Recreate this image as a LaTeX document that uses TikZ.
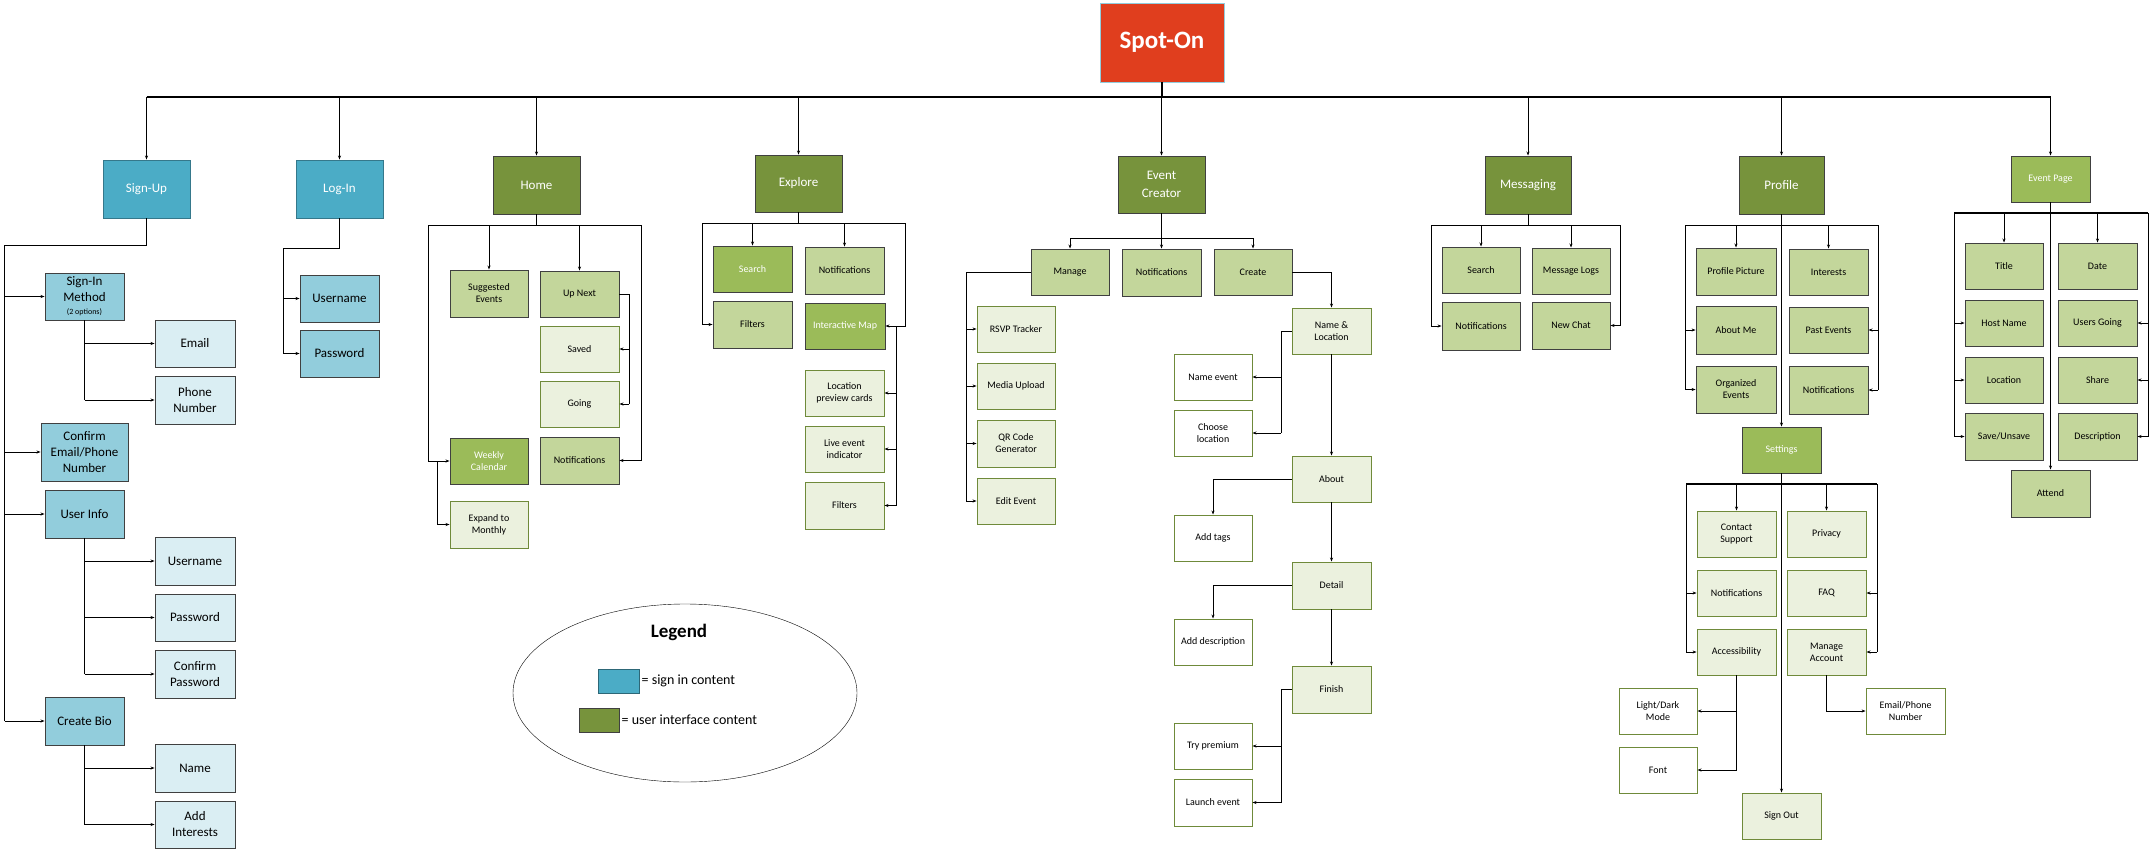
\documentclass[tikz,border=0pt]{standalone}
\usepackage{fontspec}
\setmainfont{Carlito}
\usetikzlibrary{arrows.meta,shapes.geometric}
\definecolor{sblue}{HTML}{4BACC6}
\definecolor{lblue}{HTML}{92CDDC}
\definecolor{llblue}{HTML}{DAEEF3}
\definecolor{dgreen}{HTML}{77933C}
\definecolor{mgreen}{HTML}{9BBB59}
\definecolor{lgreen}{HTML}{C3D69B}
\definecolor{llgreen}{HTML}{EBF1DE}
\definecolor{spotred}{HTML}{E03E1E}
\definecolor{olive}{HTML}{6F8A3A}
\newcommand\bx[7]{\node[box,#6,minimum width={(#4-#2)*1pt},minimum height={(#5-#3)*1pt}] (#1) at ({(#2+#4)/2},{(#3+#5)/2}) {#7};}
\begin{document}
\begin{tikzpicture}[x=1pt,y=-1pt,
 box/.style={draw=black!75,line width=0.9pt,align=center,inner sep=1pt,font=\fontsize{10}{12}\selectfont},
 big/.style={font=\fontsize{13}{16}\selectfont},
 su/.style={fill=sblue,draw=sblue!70!black,text=white,big},
 ui/.style={fill=dgreen,text=white,big},
 mg/.style={fill=mgreen,text=white},
 lg/.style={fill=lgreen},
 llg/.style={fill=llgreen,draw=olive},
 wt/.style={fill=white,draw=olive},
 lb/.style={fill=lblue,big},
 llb/.style={fill=llblue,big},
 ln/.style={line width=0.8pt,black},
 ar/.style={ln,-{Stealth[length=4pt,width=3pt]}}]
\useasboundingbox (0,0) rectangle (2151,853);
% root
\node[draw=sblue!60,fill=spotred,text=white,font=\fontsize{25}{30}\selectfont\bfseries,minimum width=124pt,minimum height=79pt] (spot) at (1162,42.5) {Spot-On};
% main
\bx{signup}{103}{160}{190}{218}{su}{Sign-Up}
\bx{login}{296}{160}{383}{218}{su}{Log-In}
\bx{home}{493}{156}{580}{214}{ui}{Home}
\bx{explore}{755}{155}{842}{212}{ui}{Explore}
\bx{evc}{1118}{156}{1205}{213}{ui}{Event\\[2pt]Creator}
\bx{msg}{1485}{156}{1571}{214}{ui}{Messaging}
\bx{profile}{1739}{156}{1824}{214}{ui}{Profile}
\bx{evpage}{2011}{156}{2090}{202}{mg}{Event Page}
\coordinate (bus) at (0,97);
\draw[line width=1.4pt] (spot.south) -- (spot.south |- bus);
\draw[line width=1.4pt] (signup.north |- bus) -- (evpage.north |- bus);
\foreach \n in {signup,login,home,explore,evc,msg,profile,evpage}
  \draw[ar] (\n.north |- bus) -- (\n.north);
% sign-up
\bx{sim}{45}{273}{124}{320}{lb}{Sign-In\\Method\\[-3pt]{\fontsize{8}{9}\selectfont (2 options)}}
\bx{email}{155}{320}{235}{367}{llb}{Email}
\bx{phone}{155}{376}{235}{424}{llb}{Phone\\Number}
\bx{confirm}{41}{423}{128}{481}{lb}{Confirm\\Email/Phone\\Number}
\bx{userinfo}{45}{490}{124}{538}{lb}{User Info}
\bx{un2}{155}{537}{235}{585}{llb}{Username}
\bx{pw2}{155}{594}{235}{641}{llb}{Password}
\bx{cpw}{155}{650}{235}{698}{llb}{Confirm\\Password}
\bx{bio}{45}{697}{124}{745}{lb}{Create Bio}
\bx{name}{155}{744}{235}{792}{llb}{Name}
\bx{addint}{155}{801}{235}{848}{llb}{Add\\Interests}
\coordinate (suL) at (4.5,245);
\draw[ln] (signup.south) |- (suL) -- (suL |- bio.west);
\foreach \n in {sim,confirm,userinfo,bio} \draw[ar] (suL |- \n.west) -- (\n.west);
\draw[ln] (sim.south) -- (sim.south |- phone.west);
\foreach \n in {email,phone} \draw[ar] (sim.south |- \n.west) -- (\n.west);
\draw[ln] (userinfo.south) -- (userinfo.south |- cpw.west);
\foreach \n in {un2,pw2,cpw} \draw[ar] (userinfo.south |- \n.west) -- (\n.west);
\draw[ln] (bio.south) -- (bio.south |- addint.west);
\foreach \n in {name,addint} \draw[ar] (bio.south |- \n.west) -- (\n.west);
% login
\bx{un}{300}{275}{379}{322}{lb}{Username}
\bx{pw}{300}{330}{379}{377}{lb}{Password}
\coordinate (liL) at (283,248);
\draw[ln] (login.south) |- (liL) -- (liL |- pw.west);
\foreach \n in {un,pw} \draw[ar] (liL |- \n.west) -- (\n.west);
% home
\bx{sug}{450}{270}{528}{317}{lg}{Suggested\\Events}
\bx{upnext}{540}{271}{619}{317}{lg}{Up Next}
\bx{saved}{540}{326}{619}{372}{llg}{Saved}
\bx{going}{540}{381}{619}{427}{llg}{Going}
\bx{weekly}{450}{438}{528}{484}{mg}{Weekly\\Calendar}
\bx{hnot}{540}{437}{619}{484}{lg}{Notifications}
\bx{expand}{450}{501}{528}{548}{llg}{Expand to\\Monthly}
\coordinate (hL) at (428,225); \coordinate (hR) at (641,225);
\draw[ln] (home.south) -- (home.south |- hL); \draw[ln] (hL) -- (hR);
\foreach \n in {sug,upnext} \draw[ar] (\n.north |- hL) -- (\n.north);
\draw[ar] (hL) |- (weekly.west); \draw[ar] (hR) |- (hnot.east);
\coordinate (hE) at (437.5,0);
\draw[ar] (hE |- weekly.west) |- (expand.west);
\coordinate (uR) at (629,0);
\draw[ln] (upnext.east) -- (uR |- upnext.east) -- (uR |- going.east);
\foreach \n in {saved,going} \draw[ar] (uR |- \n.east) -- (\n.east);
% explore
\bx{esearch}{713}{246}{792}{292}{mg}{Search}
\bx{enot}{805}{247}{884}{294}{lg}{Notifications}
\bx{efilt}{713}{301}{792}{348}{lg}{Filters}
\bx{imap}{805}{303}{885}{349}{mg}{Interactive Map}
\bx{lpc}{805}{370}{884}{416}{llg}{Location\\preview cards}
\bx{lei}{805}{426}{884}{472}{llg}{Live event\\indicator}
\bx{efilt2}{805}{482}{884}{529}{llg}{Filters}
\coordinate (eL) at (702,223); \coordinate (eR) at (905,223);
\draw[ln] (explore.south) -- (explore.south |- eL); \draw[ln] (eL) -- (eR);
\foreach \n in {esearch,enot} \draw[ar] (\n.north |- eL) -- (\n.north);
\draw[ar] (eL) |- (efilt.west); \draw[ar] (eR) |- (imap.east);
\coordinate (eM) at (896,0);
\draw[ln] (eM |- imap.east) -- (eM |- efilt2.east);
\foreach \n in {lpc,lei,efilt2} \draw[ar] (eM |- \n.east) -- (\n.east);
% event creator
\bx{manage}{1031}{249}{1109}{295}{lg}{Manage}
\bx{ecnot}{1122}{249}{1201}{296}{lg}{Notifications}
\bx{create}{1214}{249}{1292}{295}{lg}{Create}
\bx{rsvp}{977}{306}{1055}{352}{llg}{RSVP Tracker}
\bx{media}{977}{363}{1055}{409}{llg}{Media Upload}
\bx{qr}{977}{420}{1055}{467}{llg}{QR Code\\Generator}
\bx{edit}{977}{478}{1055}{524}{llg}{Edit Event}
\coordinate (cB) at (0,238);
\draw[ln] (evc.south) -- (evc.south |- cB);
\draw[ln] (manage.north |- cB) -- (create.north |- cB);
\foreach \n in {manage,ecnot,create} \draw[ar] (\n.north |- cB) -- (\n.north);
\coordinate (mL) at (966,0);
\draw[ln] (manage.west) -- (mL |- manage.west) -- (mL |- edit.west);
\foreach \n in {rsvp,media,qr,edit} \draw[ar] (mL |- \n.west) -- (\n.west);
\bx{nameloc}{1292}{308}{1371}{354}{llg}{Name \&\\Location}
\bx{about}{1292}{456}{1371}{502}{llg}{About}
\bx{detail}{1292}{562}{1371}{609}{llg}{Detail}
\bx{finish}{1292}{666}{1371}{713}{llg}{Finish}
\bx{nameev}{1174}{354}{1252}{400}{wt}{Name event}
\bx{choose}{1174}{410}{1252}{456}{wt}{Choose\\location}
\bx{addtags}{1174}{515}{1252}{561}{wt}{Add tags}
\bx{adddesc}{1174}{619}{1252}{665}{wt}{Add description}
\bx{try}{1174}{723}{1252}{769}{wt}{Try premium}
\bx{launch}{1174}{779}{1252}{826}{wt}{Launch event}
\draw[ar] (create.east) -| (nameloc.north);
\draw[ar] (nameloc.south) -- (about.north);
\draw[ar] (about.south) -- (detail.north);
\draw[ar] (detail.south) -- (finish.north);
\coordinate (nL) at (1281,0);
\draw[ln] (nameloc.west) -- (nL |- nameloc.west) -- (nL |- choose.east);
\foreach \n in {nameev,choose} \draw[ar] (nL |- \n.east) -- (\n.east);
\draw[ar] (about.west) -| (addtags.north);
\draw[ar] (detail.west) -| (adddesc.north);
\draw[ln] (finish.west) -- (nL |- finish.west) -- (nL |- launch.east);
\foreach \n in {try,launch} \draw[ar] (nL |- \n.east) -- (\n.east);
% messaging
\bx{msearch}{1442}{247}{1520}{293}{lg}{Search}
\bx{mlogs}{1532}{248}{1610}{294}{lg}{Message Logs}
\bx{mnot}{1442}{302}{1520}{350}{lg}{Notifications}
\bx{newchat}{1532}{302}{1610}{349}{lg}{New Chat}
\coordinate (gL) at (1431,225); \coordinate (gR) at (1620,225);
\draw[ln] (msg.south) -- (msg.south |- gL); \draw[ln] (gL) -- (gR);
\foreach \n in {msearch,mlogs} \draw[ar] (\n.north |- gL) -- (\n.north);
\draw[ar] (gL) |- (mnot.west); \draw[ar] (gR) |- (newchat.east);
% profile
\bx{ppic}{1696}{248}{1776}{295}{lg}{Profile Picture}
\bx{interests}{1789}{249}{1868}{295}{lg}{Interests}
\bx{aboutme}{1696}{306}{1776}{354}{lg}{About Me}
\bx{orgev}{1696}{366}{1776}{413}{lg}{Organized\\Events}
\bx{pastev}{1789}{307}{1868}{353}{lg}{Past Events}
\bx{pnot}{1789}{366}{1868}{414}{lg}{Notifications}
\bx{settings}{1742}{427}{1821}{473}{mg}{Settings}
\coordinate (pL) at (1685,225); \coordinate (pR) at (1878,225);
\draw[ln] (pL) -- (pR);
\foreach \n in {ppic,interests} \draw[ar] (\n.north |- pL) -- (\n.north);
\draw[ln] (pL) -- (pL |- orgev.west); \draw[ln] (pR) -- (pR |- pnot.east);
\foreach \n in {aboutme,orgev} \draw[ar] (pL |- \n.west) -- (\n.west);
\foreach \n in {pastev,pnot} \draw[ar] (pR |- \n.east) -- (\n.east);
\draw[ar] (profile.south) -- (settings.north);
% settings
\bx{contact}{1697}{511}{1776}{557}{llg}{Contact\\Support}
\bx{privacy}{1787}{511}{1866}{557}{llg}{Privacy}
\bx{snot}{1697}{570}{1776}{616}{llg}{Notifications}
\bx{faq}{1787}{570}{1866}{616}{llg}{FAQ}
\bx{access}{1697}{629}{1776}{675}{llg}{Accessibility}
\bx{manacc}{1787}{629}{1866}{675}{llg}{Manage\\Account}
\bx{light}{1619}{688}{1697}{734}{wt}{Light/Dark\\Mode}
\bx{font}{1619}{747}{1697}{793}{wt}{Font}
\bx{emailph}{1866}{688}{1945}{734}{wt}{Email/Phone\\Number}
\bx{signout}{1742}{793}{1821}{839}{llg}{Sign Out}
\coordinate (sL) at (1686,484); \coordinate (sR) at (1877,484);
\draw[line width=1.2pt] (sL) -- (sR);
\foreach \n in {contact,privacy} \draw[ar] (\n.north |- sL) -- (\n.north);
\draw[ln] (sL) -- (sL |- access.west); \draw[ln] (sR) -- (sR |- manacc.east);
\foreach \n in {snot,access} \draw[ar] (sL |- \n.west) -- (\n.west);
\foreach \n in {faq,manacc} \draw[ar] (sR |- \n.east) -- (\n.east);
\draw[ar] (settings.south) -- (signout.north);
\draw[ln] (access.south) -- (access.south |- font.east);
\foreach \n in {light,font} \draw[ar] (access.south |- \n.east) -- (\n.east);
\draw[ar] (manacc.south) |- (emailph.west);
% event page
\bx{title}{1965}{243}{2043}{289}{lg}{Title}
\bx{date}{2058}{243}{2137}{289}{lg}{Date}
\bx{host}{1965}{300}{2043}{346}{lg}{Host Name}
\bx{users}{2058}{300}{2137}{346}{lg}{Users Going}
\bx{loc}{1965}{357}{2043}{403}{lg}{Location}
\bx{share}{2058}{357}{2137}{403}{lg}{Share}
\bx{save}{1965}{413}{2043}{460}{lg}{Save/Unsave}
\bx{desc}{2058}{413}{2137}{460}{lg}{Description}
\bx{attend}{2011}{470}{2090}{517}{lg}{Attend}
\coordinate (vL) at (1954,213); \coordinate (vR) at (2148,213);
\draw[line width=1.2pt] (vL) -- (vR);
\draw[ln] (evpage.south) -- (evpage.south |- vL);
\foreach \n in {title,date} \draw[ar] (\n.north |- vL) -- (\n.north);
\draw[ln] (vL) -- (vL |- save.west); \draw[ln] (vR) -- (vR |- desc.east);
\foreach \n in {host,loc,save} \draw[ar] (vL |- \n.west) -- (\n.west);
\foreach \n in {users,share,desc} \draw[ar] (vR |- \n.east) -- (\n.east);
\draw[ar] (evpage.south) -- (attend.north);
% legend
\node[draw,ellipse,minimum width=344pt,minimum height=178pt] (leg) at (685,693) {};
\node[font=\fontsize{19}{22}\selectfont\bfseries] (legt) at (679,632) {Legend};
\node[fill=sblue,draw=sblue!60!black,line width=0.9pt,minimum width=41pt,minimum height=24pt,inner sep=0pt] (k1) at (618.5,681) {};
\node[anchor=west,font=\fontsize{14}{16}\selectfont,inner sep=2pt] (k1t) at (k1.east) {= sign in content};
\node[fill=dgreen,draw=black!75,line width=0.9pt,minimum width=40pt,minimum height=24pt,inner sep=0pt] (k2) at (599,720) {};
\node[anchor=west,font=\fontsize{14}{16}\selectfont,inner sep=2pt] (k2t) at (k2.east) {= user interface content};
\end{tikzpicture}
\end{document}
